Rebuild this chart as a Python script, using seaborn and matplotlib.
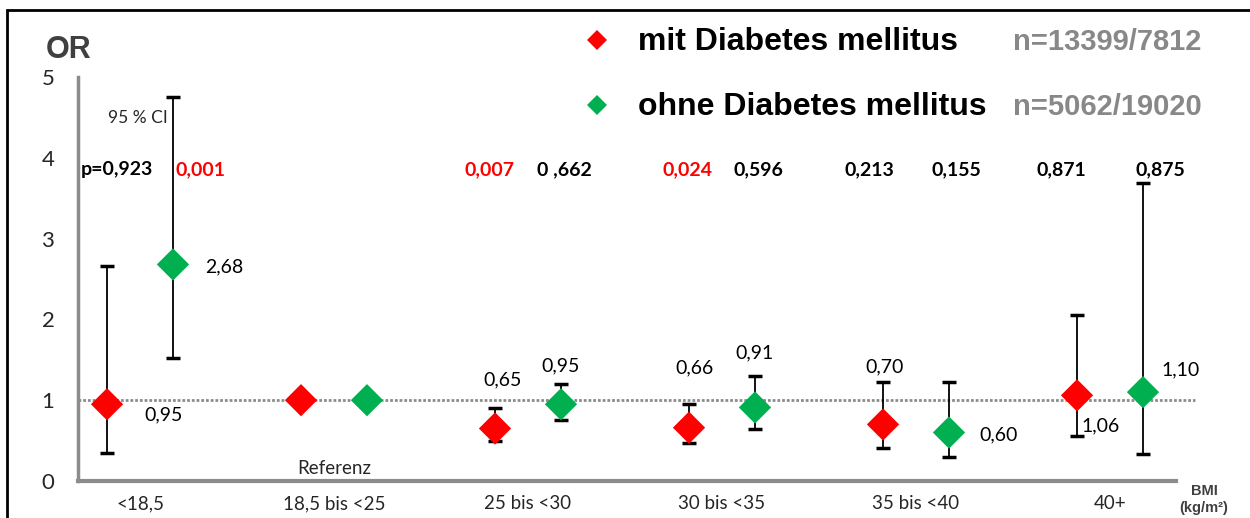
import numpy as np
import pandas as pd
import matplotlib
matplotlib.use("Agg")
import matplotlib.pyplot as plt
from matplotlib.patches import Rectangle
from matplotlib.lines import Line2D
import seaborn as sns

# Werte
categories = ['<18,5', '18,5 bis <25', '25 bis <30', '30 bis <35', '35 bis <40', '40+']
or_mit = [0.95, 1.00, 0.65, 0.66, 0.70, 1.06]
ci_low_mit = [0.35, np.nan, 0.50, 0.47, 0.41, 0.56]
ci_high_mit = [2.66, np.nan, 0.90, 0.95, 1.22, 2.06]
or_ohne = [2.68, 1.00, 0.95, 0.91, 0.60, 1.10]
ci_low_ohne = [1.52, np.nan, 0.75, 0.64, 0.30, 0.33]
ci_high_ohne = [4.75, np.nan, 1.20, 1.30, 1.22, 3.69]
p_mit = ['p=0,923', '', '0,007', '0,024', '0,213', '0,871']
p_ohne = ['0,001', '', '0 ,662', '0,596', '0,155', '0,875']
groups = ['mit Diabetes mellitus', 'ohne Diabetes mellitus']
n_text = ['n=13399/7812', 'n=5062/19020']
colors = {'mit Diabetes mellitus': '#FF0000', 'ohne Diabetes mellitus': '#00B050'}

W, H = 1250, 518
def fx(x):
    return x / W
def fy(y):
    return 1 - y / H

sns.set_theme(style='white')
plt.rcParams['font.family'] = ['Lato', 'DejaVu Sans']

idx = np.arange(len(categories))
offset = 0.17
df = pd.concat([
    pd.DataFrame({'x': idx - offset, 'OR': or_mit, 'lo': ci_low_mit, 'hi': ci_high_mit,
                  'Gruppe': groups[0], 'p': p_mit}),
    pd.DataFrame({'x': idx + offset, 'OR': or_ohne, 'lo': ci_low_ohne, 'hi': ci_high_ohne,
                  'Gruppe': groups[1], 'p': p_ohne}),
], ignore_index=True)

fig = plt.figure(figsize=(12.5, 5.18), dpi=100)
ax = fig.add_axes([fx(78), fy(481), fx(1176 - 78), 404 / H])

xmin, xmax = (78 - 140) / 194, (1176 - 140) / 194

# Referenzlinie bei OR = 1
ax.plot([xmin, (1195 - 140) / 194], [1, 1], color='#8c8c8c', ls=(0, (1, 0.7)), lw=2,
        zorder=1, clip_on=False)

# 95%-Konfidenzintervalle
ci = df.dropna(subset=['lo', 'hi'])
ax.errorbar(ci['x'], ci['OR'], yerr=[ci['OR'] - ci['lo'], ci['hi'] - ci['OR']],
            fmt='none', ecolor='black', elinewidth=1.3, capsize=5, capthick=2.5, zorder=2,
            clip_on=False)

sns.scatterplot(data=df, x='x', y='OR', hue='Gruppe', palette=colors, marker='D',
                s=270, edgecolor='none', linewidth=0, legend=False, zorder=3, ax=ax,
                clip_on=False)

# Beschriftung der Punkte (Offset in Pixeln)
label_off = {
    (0, 0): (37, -11, 'left'), (0, 1): (32, -2, 'left'),
    (2, 0): (8, 49, 'center'), (2, 1): (0, 38, 'center'),
    (3, 0): (5, 60, 'center'), (3, 1): (0, 55, 'center'),
    (4, 0): (2, 58, 'center'), (4, 1): (30, -2, 'left'),
    (5, 0): (4, -31, 'left'), (5, 1): (18, 22, 'left'),
}
for (i, g), (dx, dy, ha) in label_off.items():
    vals = or_mit if g == 0 else or_ohne
    xv = i - offset if g == 0 else i + offset
    ax.annotate(f'{vals[i]:.2f}'.replace('.', ','), (xv, vals[i]), xytext=(dx, dy),
                textcoords='offset pixels', ha=ha, va='center', fontsize=14, color='black')

# p-Werte
p_pos = [(-0.12, 0.31), None, (-0.2, 0.19), (-0.18, 0.19), (-0.24, 0.21), (-0.25, 0.26)]
for i, pos in enumerate(p_pos):
    if pos is None:
        continue
    for txt, dxv in zip([p_mit[i], p_ohne[i]], pos):
        val = float(txt.replace('p=', '').replace(' ', '').replace(',', '.'))
        ax.text(i + dxv, 3.85, txt, ha='center', va='center', fontsize=14, fontweight='bold',
                color='#FF0000' if val < 0.05 else 'black')

ax.text(0.144, 4.49, '95 % CI', ha='right', va='center', fontsize=12.5)
ax.text(1, 0.16, 'Referenz', ha='center', va='center', fontsize=13.5)

ax.set_xlim(xmin, xmax)
ax.set_ylim(0, 5)
ax.set_xticks(idx)
ax.set_xticklabels(categories)
ax.set_yticks(range(6))
ax.set_xlabel('')
ax.set_ylabel('')
ax.tick_params(axis='x', length=0, pad=10, labelsize=13.5)
ax.tick_params(axis='y', length=7, width=2.5, color='#8c8c8c', pad=10, labelsize=16)
for s in ['top', 'right']:
    ax.spines[s].set_visible(False)
ax.spines['left'].set_color('#8c8c8c')
ax.spines['left'].set_linewidth(2.5)
ax.spines['bottom'].set_color('#8c8c8c')
ax.spines['bottom'].set_linewidth(3)

# Titel und Achsenbeschriftung
narrow = ['Liberation Sans Narrow', 'Liberation Sans', 'DejaVu Sans']
fig.text(fx(46), fy(50), 'OR', ha='left', va='center', fontsize=22, fontweight='bold',
         color='#404040', family=['Liberation Sans', 'DejaVu Sans'])
fig.text(fx(1204), fy(491), 'BMI', ha='center', va='center', fontsize=10.5, fontweight='bold',
         color='#404040', family=narrow)
fig.text(fx(1204), fy(508), '(kg/m²)', ha='center', va='center', fontsize=10.5,
         fontweight='bold', color='#404040', family=narrow)

# Legende
for g, n, y in zip(groups, n_text, [40, 105]):
    fig.add_artist(Line2D([fx(597)], [fy(y)], marker='D', markersize=10, color=colors[g],
                          markeredgewidth=0, transform=fig.transFigure))
    fig.text(fx(638), fy(y + 2), g, ha='left', va='center', fontsize=23, fontweight='bold',
             color='black', family=narrow)
    fig.text(fx(1013), fy(y + 2), n, ha='left', va='center', fontsize=21, fontweight='bold',
             color='#888888', family=narrow)

# Rahmen
fig.add_artist(Rectangle((fx(7), -0.2), 1.2, fy(10) + 0.2, transform=fig.transFigure,
                         fill=False, ec='black', lw=2))

fig.savefig('out.png', dpi=100)
